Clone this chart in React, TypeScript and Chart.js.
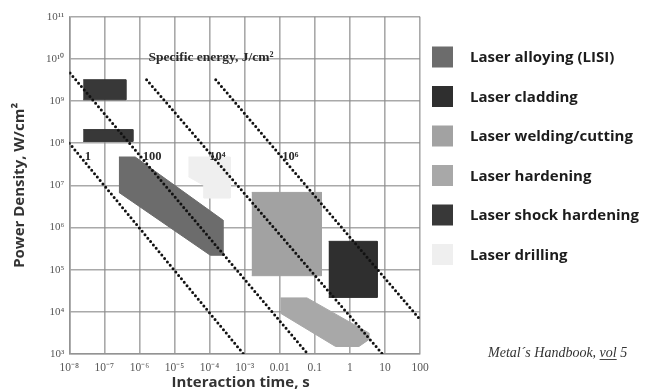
import { useEffect, useRef } from "react";
import { Chart, registerables } from "chart.js";

Chart.register(...registerables);

// ---------- axes ----------
const xTickValues = [1e-8, 1e-7, 1e-6, 1e-5, 1e-4, 1e-3, 0.01, 0.1, 1, 10, 100];
const xTickLabels = ["10⁻⁸", "10⁻⁷", "10⁻⁶", "10⁻⁵", "10⁻⁴", "10⁻³", "0.01", "0.1", "1", "10", "100"];
const yTickValues = [1e3, 1e4, 1e5, 1e6, 1e7, 1e8, 1e9, 1e10, 1e11];
const yTickLabels = ["10³", "10⁴", "10⁵", "10⁶", "10⁷", "10⁸", "10⁹", "10¹⁰", "10¹¹"];
const xTitle = "Interaction time, s";
const yTitle = "Power Density, W/cm²";

// ---------- processes (legend) ----------
const processNames = [
  "Laser alloying (LISI)",
  "Laser cladding",
  "Laser welding/cutting",
  "Laser hardening",
  "Laser shock hardening",
  "Laser drilling",
];
const processColors = ["#6c6c6c", "#2f2f2f", "#a2a2a2", "#a8a8a8", "#383838", "#efefef"];

// ---------- process regions (time s, power W/cm²) ----------
const alloyingTime = [2.6e-7, 7.6e-7, 2.4e-4, 2.4e-4, 1.05e-4, 2.6e-7];
const alloyingPower = [4.7e7, 4.7e7, 1.5e6, 2.2e5, 2.2e5, 6.8e6];

const claddingTime = [0.25, 6.0, 6.0, 0.25];
const claddingPower = [4.7e5, 4.7e5, 2.2e4, 2.2e4];

const weldingTime = [1.6e-3, 0.155, 0.155, 1.6e-3];
const weldingPower = [6.8e6, 6.8e6, 7.2e4, 7.2e4];

const hardeningTime = [0.0105, 0.06, 3.47, 3.47, 1.82, 0.39, 0.0105];
const hardeningPower = [2.14e4, 2.14e4, 3.16e3, 2.19e3, 1.51e3, 1.51e3, 9.3e3];

const shockTimeA = [2.5e-8, 4.1e-7, 4.1e-7, 2.5e-8];
const shockPowerA = [3.2e9, 3.2e9, 1.07e9, 1.07e9];
const shockTimeB = [2.5e-8, 6.5e-7, 6.5e-7, 2.5e-8];
const shockPowerB = [2.1e8, 2.1e8, 1.1e8, 1.1e8];

const drillingTime = [2.5e-5, 3.9e-4, 3.9e-4, 6.8e-5, 6.8e-5, 2.5e-5];
const drillingPower = [4.7e7, 4.7e7, 5.0e6, 5.0e6, 1.0e7, 1.6e7];

// ---------- specific energy lines ----------
const energyLabels = ["1", "100", "10⁴", "10⁶"];
const energyLineTime = [
  [1e-8, 9.3e-4],
  [1.05e-8, 6.3e-2],
  [1.6e-6, 8.5],
  [1.5e-4, 93],
];
const energyLinePower = [
  [1e8, 1e3],
  [4.6e9, 1e3],
  [3.2e9, 1e3],
  [3.2e9, 7.1e3],
];
const energyLabelTime = [3.4e-8, 2.3e-6, 1.66e-4, 2.0e-2];
const energyLabelPower = 4.8e7;
const specificEnergyTitle = "Specific energy, J/cm²";
const specTitleTime = 1.8e-6;
const specTitlePower = 1.05e10;

const sourceText = "Metal´s Handbook, ";
const sourceVol = "vol";
const sourceTail = " 5";

const toPts = (t: number[], p: number[]) => t.map((v, i) => ({ x: v, y: p[i] }));

const GRID = "rgba(140,140,140,0.75)";

const textPlugin = {
  id: "annotText",
  afterDraw(chart: any) {
    const { ctx, scales, chartArea } = chart;
    const x = scales.x;
    const y = scales.y;
    ctx.save();
    // energy labels
    ctx.fillStyle = "#2a2a2a";
    ctx.font = 'bold 12.5px "Liberation Serif"';
    ctx.textAlign = "center";
    ctx.textBaseline = "middle";
    energyLabels.forEach((s, i) => {
      ctx.fillText(s, x.getPixelForValue(energyLabelTime[i]), y.getPixelForValue(energyLabelPower));
    });
    ctx.textAlign = "left";
    ctx.font = 'bold 13.5px "Liberation Serif"';
    ctx.fillText(specificEnergyTitle, x.getPixelForValue(specTitleTime), y.getPixelForValue(specTitlePower));

    // axis titles
    ctx.fillStyle = "#333";
    ctx.font = '700 15px "Open Sans"';
    ctx.save();
    ctx.translate(20, (chartArea.top + chartArea.bottom) / 2);
    ctx.rotate(-Math.PI / 2);
    ctx.textAlign = "center";
    ctx.fillText(yTitle, 0, 0);
    ctx.restore();
    ctx.font = '700 15px "Open Sans"';
    ctx.textAlign = "center";
    ctx.fillText(xTitle, (chartArea.left + chartArea.right) / 2 - 4, 383);

    // legend
    ctx.textAlign = "left";
    ctx.font = '700 15px "Open Sans"';
    processNames.forEach((name, i) => {
      const cy = 58 + i * 39.5;
      ctx.fillStyle = processColors[i];
      ctx.fillRect(432, cy - 11.5, 21, 21);
      ctx.fillStyle = "#1c1c1c";
      ctx.fillText(name, 470, cy);
    });

    // source
    ctx.fillStyle = "#333";
    ctx.font = 'italic 14px "Liberation Serif"';
    let sx = 488;
    const sy = 353;
    ctx.fillText(sourceText, sx, sy);
    sx += ctx.measureText(sourceText).width;
    ctx.fillText(sourceVol, sx, sy);
    const vw = ctx.measureText(sourceVol).width;
    ctx.fillRect(sx, sy + 6, vw, 0.9);
    sx += vw;
    ctx.fillText(sourceTail, sx, sy);
    ctx.restore();
  },
};

export default function App() {
  const ref = useRef<HTMLCanvasElement | null>(null);
  useEffect(() => {
    if (!ref.current) return;
    const shape = (t: number[], p: number[], color: string) => ({
      data: toPts(t, p),
      showLine: true,
      fill: "shape",
      backgroundColor: color,
      borderColor: color,
      borderWidth: 1,
      pointRadius: 0,
      order: 1,
    });
    const lines = energyLineTime.map((t, i) => ({
      data: toPts(t, energyLinePower[i]),
      showLine: true,
      fill: false,
      borderColor: "#111",
      borderWidth: 3,
      borderDash: [0, 4.4],
      borderCapStyle: "round",
      pointRadius: 0,
      order: 0,
    }));
    const chart = new Chart(ref.current, {
      type: "scatter",
      data: {
        datasets: [
          ...lines,
          shape(alloyingTime, alloyingPower, processColors[0]),
          shape(claddingTime, claddingPower, processColors[1]),
          shape(weldingTime, weldingPower, processColors[2]),
          shape(hardeningTime, hardeningPower, processColors[3]),
          shape(shockTimeA, shockPowerA, processColors[4]),
          shape(shockTimeB, shockPowerB, processColors[4]),
          shape(drillingTime, drillingPower, processColors[5]),
        ] as any,
      },
      options: {
        responsive: false,
        animation: false,
        events: [],
        layout: { padding: { left: 0, top: 16.7, right: 226, bottom: 0 } },
        plugins: { legend: { display: false }, tooltip: { enabled: false } },
        scales: {
          x: {
            type: "logarithmic",
            min: 1e-8,
            max: 100,
            z: 1,
            afterBuildTicks: (axis: any) => {
              axis.ticks = xTickValues.map((v) => ({ value: v }));
            },
            afterFit: (s: any) => {
              s.height = 37;
            },
            grid: { color: GRID, lineWidth: 1.6, drawTicks: false },
            border: { color: GRID, width: 1.6 },
            ticks: {
              autoSkip: false,
              maxRotation: 0,
              padding: 7,
              color: "#555",
              font: { family: "Liberation Serif", size: 11.5 },
              callback: (_v: any, i: number) => xTickLabels[i],
            },
          },
          y: {
            type: "logarithmic",
            min: 1e3,
            max: 1e11,
            z: 1,
            afterBuildTicks: (axis: any) => {
              axis.ticks = yTickValues.map((v) => ({ value: v }));
            },
            afterFit: (s: any) => {
              s.width = 69.3;
            },
            grid: { color: GRID, lineWidth: 1.6, drawTicks: false },
            border: { color: GRID, width: 1.6 },
            ticks: {
              autoSkip: false,
              padding: 5,
              color: "#555",
              font: { family: "Liberation Serif", size: 11 },
              callback: (_v: any, i: number) => yTickLabels[i],
            },
          },
        },
      } as any,
      plugins: [textPlugin],
    });
    return () => chart.destroy();
  }, []);
  return (
    <canvas
      ref={ref}
      width={646}
      height={391}
      style={{ position: "absolute", left: 0, top: 0, display: "block", background: "#fff" }}
    />
  );
}
